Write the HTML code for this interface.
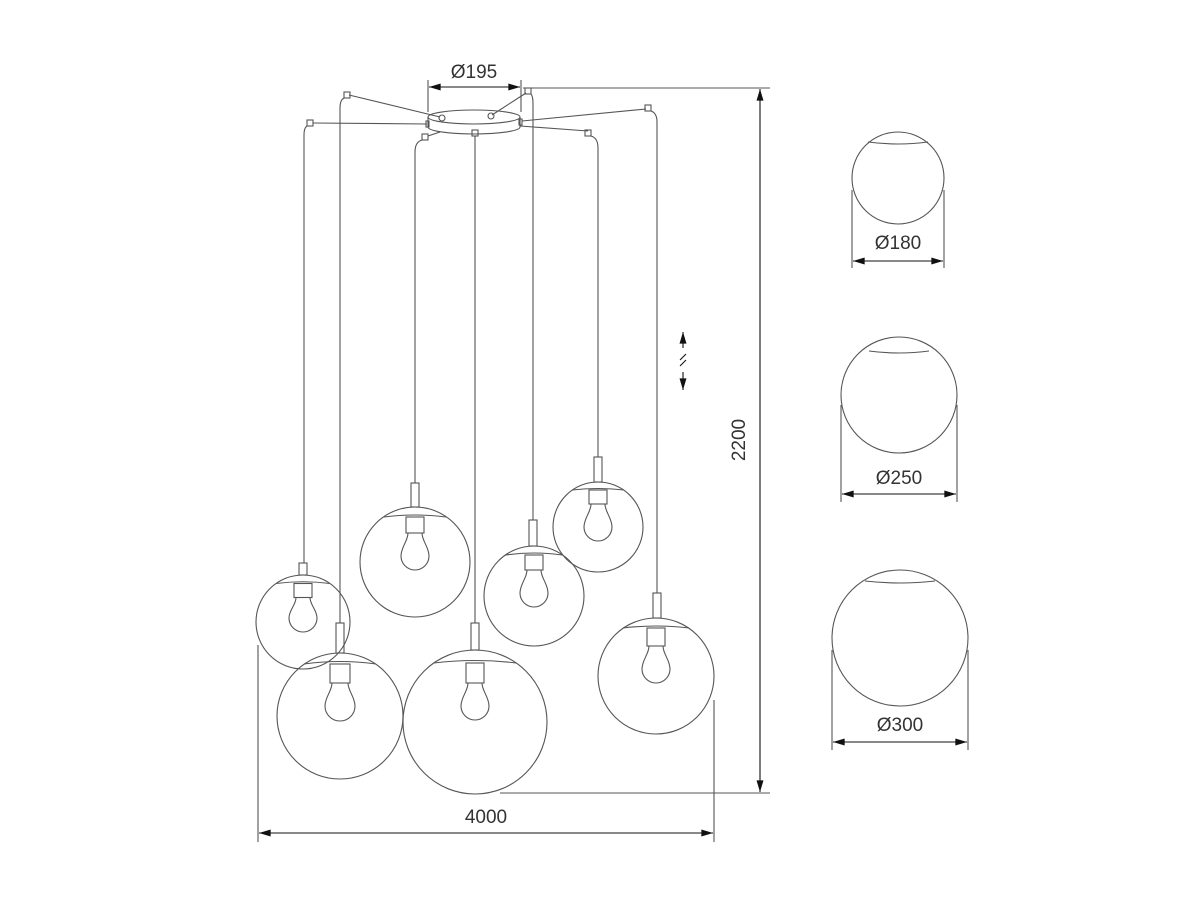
<!DOCTYPE html>
<html><head><meta charset="utf-8"><style>
html,body{margin:0;padding:0;background:#fff;}
svg{display:block}
text{font-family:"Liberation Sans","DejaVu Sans",sans-serif;fill:#333;font-size:19px}
</style></head><body>
<svg width="1200" height="900" viewBox="0 0 1200 900" xmlns="http://www.w3.org/2000/svg">
<defs>
<marker id="a" viewBox="0 0 10 6" refX="10" refY="3" markerWidth="14" markerHeight="7" orient="auto-start-reverse" markerUnits="userSpaceOnUse"><path d="M0,0 L10,3 L0,6z" fill="#111"/></marker>
</defs>
<g fill="none" stroke="#555" stroke-width="1.1">
<!-- canopy -->
<ellipse cx="474" cy="117" rx="46" ry="7"/>
<path d="M428,117 L428,127 A46,7 0 0 0 520,127 L520,117"/>
<circle cx="442" cy="118" r="3"/><circle cx="491" cy="116" r="3"/>
<!-- arms -->
<line x1="313" y1="123" x2="427" y2="124"/>
<line x1="349" y1="95" x2="440" y2="117"/>
<line x1="428" y1="136" x2="440" y2="132"/>
<line x1="526" y1="93" x2="492" y2="115"/>
<line x1="520" y1="126" x2="588" y2="131"/>
<line x1="522" y1="121" x2="646" y2="109"/>
<line x1="523" y1="88" x2="770" y2="88"/>
<!-- squares -->
<rect x="307" y="120" width="6" height="6"/><rect x="344" y="92" width="6" height="6"/>
<rect x="422" y="134" width="6" height="6"/><rect x="472" y="130" width="6" height="6"/>
<rect x="525" y="88" width="6" height="6"/><rect x="585" y="130" width="6" height="6"/>
<rect x="645" y="105" width="6" height="6"/><rect x="426" y="121" width="3" height="6"/><rect x="519" y="119" width="3" height="6"/>
<!-- wires -->
<path d="M307,126 Q304,128 304,135 L304,563"/>
<path d="M344,98 Q340,100 340,108 L340,623"/>
<path d="M422,140 Q415,142 415,152 L415,483"/>
<path d="M475,136 L475,623"/>
<path d="M531,94 Q533,96 533,104 L533,520"/>
<path d="M591,136 Q598,138 598,148 L598,457"/>
<path d="M651,111 Q657,113 657,122 L657,593"/>
<!-- pendants -->
<circle cx="303" cy="622" r="47"/><rect x="299" y="563" width="8" height="12"/>
<path d="M276,583.5 Q303,580 330,583.5"/><rect x="294" y="583.5" width="18" height="14"/>
<path d="M296,597.5 C296,605 289,610 289,618 A14,14 0 0 0 317,618 C317,610 310,605 310,597.5"/>
<circle cx="340" cy="716" r="63"/><rect x="336" y="623" width="8" height="30"/>
<path d="M304,664 Q340,659 376,664"/><rect x="330" y="664" width="20" height="19"/>
<path d="M332,683 C332,691 325,697 325,706 A15,15 0 0 0 355,706 C355,697 348,691 348,683"/>
<circle cx="415" cy="562" r="55"/><rect x="411" y="483" width="8" height="24"/>
<path d="M384,517 Q415,513 446,517"/><rect x="406" y="517" width="18" height="16"/>
<path d="M408,533 C408,541 401,547 401,556 A14,14 0 0 0 429,556 C429,547 422,541 422,533"/>
<circle cx="475" cy="722" r="72"/><rect x="471" y="623" width="8" height="27"/>
<path d="M434,663 Q475,658 516,663"/><rect x="466" y="663" width="18" height="20"/>
<path d="M468,683 C468,691 461,697 461,706 A14,14 0 0 0 489,706 C489,697 482,691 482,683"/>
<circle cx="534" cy="596" r="50"/><rect x="529" y="520" width="8" height="26"/>
<path d="M506,555 Q534,551 562,555"/><rect x="525" y="555" width="18" height="15"/>
<path d="M527,570 C527,578 520,584 520,593 A14,14 0 0 0 548,593 C548,584 541,578 541,570"/>
<circle cx="598" cy="527" r="45"/><rect x="594" y="457" width="8" height="25"/>
<path d="M572,490 Q598,487 624,490"/><rect x="589" y="490" width="18" height="14"/>
<path d="M591,504 C591,512 584,518 584,527 A14,14 0 0 0 612,527 C612,518 605,512 605,504"/>
<circle cx="656" cy="676" r="58"/><rect x="653" y="593" width="8" height="25"/>
<path d="M623,628 Q656,624 689,628"/><rect x="647" y="628" width="18" height="18"/>
<path d="M649,646 C649,654 642,660 642,669 A14,14 0 0 0 670,669 C670,660 663,654 663,646"/>
<!-- dimension extension lines -->
<line x1="428" y1="80" x2="428" y2="112"/><line x1="521" y1="80" x2="521" y2="112"/>
<line x1="500" y1="793" x2="770" y2="793"/>
<line x1="258" y1="645" x2="258" y2="842"/><line x1="714" y1="700" x2="714" y2="842"/>
<!-- right spheres -->
<circle cx="898" cy="178" r="46"/><path d="M868,142 Q898,146 928,142"/>
<line x1="852" y1="190" x2="852" y2="268"/><line x1="944" y1="190" x2="944" y2="268"/>
<circle cx="899" cy="395" r="58"/><path d="M869,351 Q899,355 929,351"/>
<line x1="841" y1="405" x2="841" y2="502"/><line x1="957" y1="405" x2="957" y2="502"/>
<circle cx="900" cy="638" r="68"/><path d="M865,581 Q900,585 935,581"/>
<line x1="832" y1="650" x2="832" y2="750"/><line x1="968" y1="650" x2="968" y2="750"/>
</g>
<g stroke="#111" stroke-width="1.1" fill="none">
<line x1="429" y1="87" x2="520" y2="87" marker-start="url(#a)" marker-end="url(#a)"/>
<line x1="760" y1="89" x2="760" y2="792" marker-start="url(#a)" marker-end="url(#a)"/>
<line x1="259" y1="833" x2="713" y2="833" marker-start="url(#a)" marker-end="url(#a)"/>
<line x1="853" y1="261" x2="943" y2="261" marker-start="url(#a)" marker-end="url(#a)"/>
<line x1="842" y1="494" x2="956" y2="494" marker-start="url(#a)" marker-end="url(#a)"/>
<line x1="833" y1="742" x2="967" y2="742" marker-start="url(#a)" marker-end="url(#a)"/>
<line x1="683" y1="348" x2="683" y2="332" marker-end="url(#a)"/>
<line x1="683" y1="372" x2="683" y2="390" marker-end="url(#a)"/>
<line x1="680" y1="360" x2="686" y2="354"/><line x1="680" y1="366" x2="686" y2="360"/>
</g>
<text x="474" y="78" text-anchor="middle">Ø195</text>
<text x="486" y="823" text-anchor="middle">4000</text>
<text transform="translate(745,440) rotate(-90)" text-anchor="middle">2200</text>
<text x="898" y="249" text-anchor="middle">Ø180</text>
<text x="899" y="484" text-anchor="middle">Ø250</text>
<text x="900" y="731" text-anchor="middle">Ø300</text>
</svg>
</body></html>
